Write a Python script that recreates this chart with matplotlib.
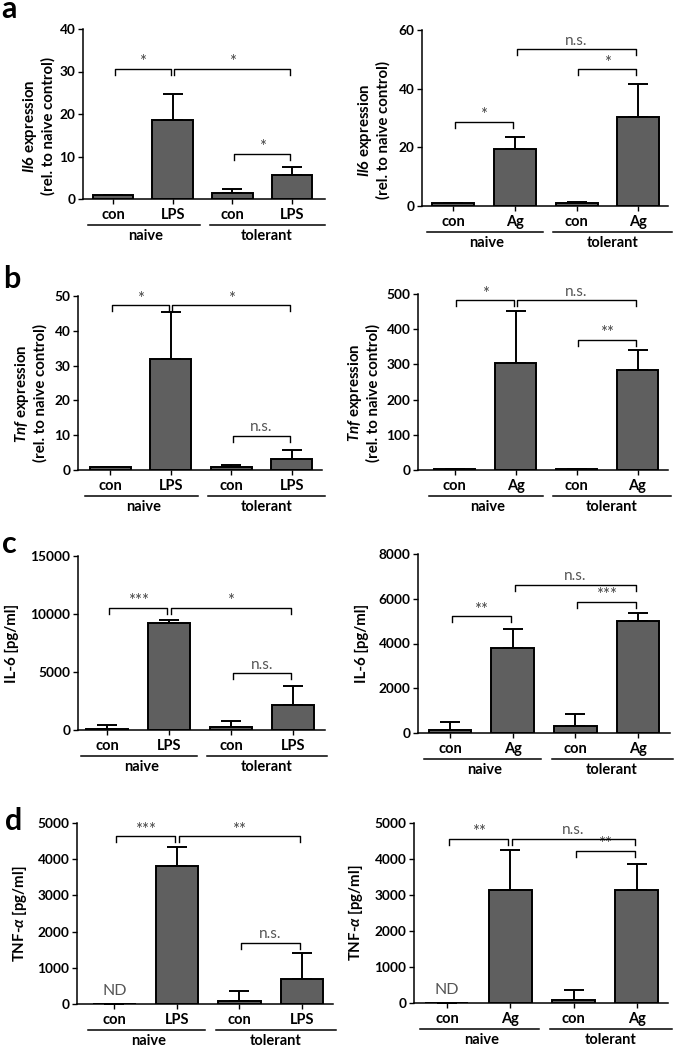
import matplotlib
matplotlib.use("Agg")
import matplotlib.pyplot as plt
import matplotlib.transforms as mtransforms

plt.rcParams["font.family"] = ["Lato", "DejaVu Sans"]
plt.rcParams["mathtext.fontset"] = "custom"
plt.rcParams["mathtext.rm"] = "Lato:bold"
plt.rcParams["mathtext.it"] = "Lato:italic:bold"
plt.rcParams["mathtext.bf"] = "Lato:bold"

# ---- data ----
lps_cats = ["con", "LPS", "con", "LPS"]
ag_cats = ["con", "Ag", "con", "Ag"]
groups = ["naive", "tolerant"]

il6_lps_mean = [1.0, 18.7, 1.5, 5.7]
il6_lps_err = [0, 5.9, 0.8, 1.9]
il6_ag_mean = [1.0, 19.5, 1.0, 30.2]
il6_ag_err = [0, 4.0, 0.3, 11.5]

tnf_lps_mean = [1.0, 31.9, 1.0, 3.2]
tnf_lps_err = [0, 13.4, 0.3, 2.55]
tnf_ag_mean = [2, 305, 3, 283]
tnf_ag_err = [0, 148, 0, 57]

il6p_lps_mean = [100, 9250, 300, 2150]
il6p_lps_err = [330, 270, 475, 1640]
il6p_ag_mean = [150, 3820, 310, 4990]
il6p_ag_err = [340, 830, 520, 370]

tnfp_lps_mean = [0, 3820, 80, 680]
tnfp_lps_err = [0, 515, 270, 725]
tnfp_ag_mean = [0, 3150, 80, 3150]
tnfp_ag_err = [0, 1110, 280, 720]

# significance brackets: (from, to, height, label)
sig_il6_lps = [(0, 1, 30.6, "*"), (1, 3, 30.6, "*"), (2, 3, 10.7, "*")]
sig_il6_ag = [(0, 1, 28.7, "*"), (2, 3, 46.6, "*"), (1, 3, 53.4, "n.s.")]
sig_tnf_lps = [(0, 1, 47.4, "*"), (1, 3, 47.4, "*"), (2, 3, 9.9, "n.s.")]
sig_tnf_ag = [(0, 1, 482, "*"), (1, 3, 482, "n.s."), (2, 3, 370, "**")]
sig_il6p_lps = [(0, 1, 10530, "***"), (1, 3, 10530, "*"), (2, 3, 4880, "n.s.")]
sig_il6p_ag = [(0, 1, 5210, "**"), (2, 3, 5855, "***"), (1, 3, 6630, "n.s.")]
sig_tnfp_lps = [(0, 1, 4630, "***"), (1, 3, 4630, "**"), (2, 3, 1690, "n.s.")]
sig_tnfp_ag = [(0, 1, 4560, "**"), (1, 3, 4560, "n.s."), (2, 3, 4235, "**")]

IL6_LABEL = "$\\mathit{Il6}$ expression\n(rel. to naive control)"
TNF_LABEL = "$\\mathit{Tnf}$ expression\n(rel. to naive control)"

W, H = 675, 1053
BAR_COLOR = "#5f5f5f"

fig = plt.figure(figsize=(W / 100, H / 100), dpi=100)


def px_axes(x0, x1, ytop, ybot):
    return fig.add_axes([x0 / W, 1 - ybot / H, (x1 - x0) / W, (ybot - ytop) / H])


def panel(rect, cats, mean, err, sigs, ymax, ystep, ylabel, xlim, lab_off, lab_y, nd=False):
    ax = px_axes(*rect)
    x = list(range(len(cats)))
    ax.bar(x, mean, width=0.68, color=BAR_COLOR, edgecolor="black", linewidth=1.4, zorder=3)
    ax.errorbar(x, mean, yerr=[[0] * len(err), err], fmt="none", ecolor="black",
                elinewidth=1.4, capsize=7, capthick=1.4, zorder=2)
    ax.set_xlim(*xlim)
    ax.set_ylim(0, ymax)
    ax.set_yticks(range(0, ymax + 1, ystep))
    ax.set_xticks(x)
    ax.set_xticklabels(cats, fontsize=10.5, fontweight="bold")
    for t in ax.get_yticklabels():
        t.set_fontsize(9.8)
        t.set_fontweight("bold")
    ax.tick_params(axis="both", direction="out", length=3.5, width=1.0, pad=2)
    ax.tick_params(axis="x", pad=3)
    for s in ["top", "right"]:
        ax.spines[s].set_visible(False)
    for s in ["left", "bottom"]:
        ax.spines[s].set_linewidth(1.1)

    width_px = rect[1] - rect[0]
    ax.set_ylabel(ylabel, fontsize=10.8, fontweight="bold", linespacing=1.15)
    ax.yaxis.label.set_va("center")
    ax.yaxis.set_label_coords(-lab_off / width_px, lab_y)

    # group underlines and names
    h_px = rect[3] - rect[2]
    tr = mtransforms.blended_transform_factory(ax.transData, ax.transAxes)
    y_line = -26 / h_px
    y_grp = -37 / h_px
    for (a, b), cx, name in zip([(-0.42, 1.45), (1.62, 3.55)], [0.55, 2.58], groups):
        ax.plot([a, b], [y_line, y_line], color="black", lw=1.1, transform=tr, clip_on=False)
        ax.text(cx, y_grp, name, transform=tr, ha="center", va="center",
                fontsize=10.5, fontweight="bold")

    # significance brackets
    drop = 6 / h_px * ymax
    for i, j, yb, lab in sigs:
        a, b = i + 0.03, j - 0.03
        ax.plot([a, a, b, b], [yb - drop, yb, yb, yb - drop], color="black", lw=1.0,
                clip_on=False, zorder=4)
        if lab == "n.s.":
            ax.text((i + j) / 2, yb + 1.5 / h_px * ymax, lab, ha="center", va="bottom",
                    fontsize=11, color="#555555")
        else:
            ax.text((i + j) / 2, yb - 1.5 / h_px * ymax, lab, ha="center", va="bottom",
                    fontsize=12, color="#444444")
    if nd:
        ax.text(0, 13 / h_px * ymax, "ND", ha="center", va="center", fontsize=11.5,
                color="#555555")
    return ax


panel((83, 325, 29, 199), lps_cats, il6_lps_mean, il6_lps_err, sig_il6_lps, 40, 10,
      IL6_LABEL, (-0.5, 3.55), 45, 0.43)
panel((422, 668, 30, 206), ag_cats, il6_ag_mean, il6_ag_err, sig_il6_ag, 60, 20,
      IL6_LABEL, (-0.5, 3.48), 49, 0.43)
panel((78, 322, 296, 470), lps_cats, tnf_lps_mean, tnf_lps_err, sig_tnf_lps, 50, 10,
      TNF_LABEL, (-0.53, 3.5), 48, 0.44)
panel((418, 668, 294, 470), ag_cats, tnf_ag_mean, tnf_ag_err, sig_tnf_ag, 500, 100,
      TNF_LABEL, (-0.6, 3.5), 55, 0.44)
panel((78, 325, 556, 730), lps_cats, il6p_lps_mean, il6p_lps_err, sig_il6p_lps, 15000, 5000,
      "IL-6 [pg/ml]", (-0.47, 3.52), 66, 0.5)
panel((418, 670, 554, 733), ag_cats, il6p_ag_mean, il6p_ag_err, sig_il6p_ag, 8000, 2000,
      "IL-6 [pg/ml]", (-0.51, 3.51), 56, 0.5)
panel((77, 333, 823, 1004), lps_cats, tnfp_lps_mean, tnfp_lps_err, sig_tnfp_lps, 5000, 1000,
      "TNF-$\\alpha$ [pg/ml]", (-0.6, 3.5), 58, 0.5, nd=True)
panel((414, 668, 823, 1003), ag_cats, tnfp_ag_mean, tnfp_ag_err, sig_tnfp_ag, 5000, 1000,
      "TNF-$\\alpha$ [pg/ml]", (-0.52, 3.49), 58, 0.5, nd=True)

# panel letters (baseline positions in pixels)
for letter, (px, py) in zip("abcd", [(1, 18), (3, 288), (2, 553), (5, 830)]):
    fig.text(px / W, 1 - py / H, letter, fontsize=22, fontweight="bold",
             va="baseline", ha="left")

fig.savefig("out.png", dpi=100)
